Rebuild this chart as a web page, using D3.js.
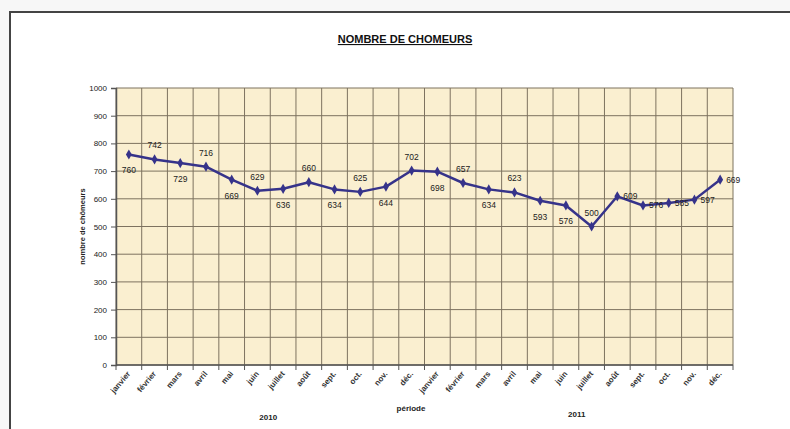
<!DOCTYPE html>
<html>
<head>
<meta charset="utf-8">
<script src="https://cdn.jsdelivr.net/npm/d3@7"></script>
<style>
  html, body { margin: 0; padding: 0; background: #f7f7f7; }
  svg { display: block; }
  text { font-family: "Liberation Sans", Arial, sans-serif; }
</style>
</head>
<body>
<svg id="chart" width="790" height="429"></svg>
<script>
// Monthly job-seeker counts, 2010–2011
const months = ["janvier", "février", "mars", "avril", "mai", "juin", "juillet", "août", "sept.", "oct.", "nov.", "déc.",
                "janvier", "février", "mars", "avril", "mai", "juin", "juillet", "août", "sept.", "oct.", "nov.", "déc."];
const years = ["2010", "2011"];
const chomeurs = [760, 742, 729, 716, 669, 629, 636, 660, 634, 625, 644, 702,
                  698, 657, 634, 623, 593, 576, 500, 609, 576, 585, 597, 669];
// where each value label sits relative to its point
const labelPos = ["below", "above", "below", "above", "below", "above", "below", "above", "below", "above", "below", "above",
                  "below", "above", "below", "above", "below", "below", "above", "right", "right", "right", "right", "right"];
const yTicks = [0, 100, 200, 300, 400, 500, 600, 700, 800, 900, 1000];

const svg = d3.select("#chart");
const W = 790, H = 429;

// chart sheet with its black frame
svg.append("rect").attr("x", 10).attr("y", 12).attr("width", W + 20).attr("height", H + 20)
  .attr("fill", "#ffffff").attr("stroke", "#444").attr("stroke-width", 2);

const margin = { left: 116, right: 57, top: 88, bottom: 64 };
const pw = W - margin.left - margin.right;
const ph = H - margin.top - margin.bottom;

const idx = d3.range(months.length);
const x = d3.scaleBand().domain(idx).range([margin.left, margin.left + pw]).padding(0);
const y = d3.scaleLinear().domain([0, 1000]).range([margin.top + ph, margin.top]);

// plot area
svg.append("rect").attr("x", margin.left).attr("y", margin.top).attr("width", pw).attr("height", ph)
  .attr("fill", "#faefd0");

// horizontal grid
svg.append("g").selectAll("line").data(yTicks).join("line")
  .attr("x1", margin.left).attr("x2", margin.left + pw)
  .attr("y1", d => y(d)).attr("y2", d => y(d))
  .attr("stroke", "#7d725f").attr("stroke-width", 1);

// vertical grid at category boundaries
const bounds = d3.range(months.length + 1).map(i => margin.left + i * x.bandwidth());
svg.append("g").selectAll("line").data(bounds).join("line")
  .attr("x1", d => d).attr("x2", d => d)
  .attr("y1", margin.top).attr("y2", margin.top + ph)
  .attr("stroke", "#7d725f").attr("stroke-width", 1);

// y axis
const yAxis = svg.append("g").attr("transform", `translate(${margin.left},0)`)
  .call(d3.axisLeft(y).tickValues(yTicks).tickSize(5).tickPadding(4).tickFormat(d3.format("d")));
yAxis.select(".domain").attr("stroke", "#555").attr("stroke-width", 1.5);
yAxis.selectAll(".tick line").attr("stroke", "#555");
yAxis.selectAll("text").attr("font-size", 8).attr("fill", "#222");

// x axis: tick marks between categories, labels rotated at category centres
const xg = svg.append("g");
xg.append("line").attr("x1", margin.left).attr("x2", margin.left + pw)
  .attr("y1", y(0)).attr("y2", y(0)).attr("stroke", "#555").attr("stroke-width", 1.5);
xg.selectAll(".tk").data(bounds).join("line").attr("class", "tk")
  .attr("x1", d => d).attr("x2", d => d).attr("y1", y(0)).attr("y2", y(0) + 5)
  .attr("stroke", "#555");
xg.selectAll(".lbl").data(idx).join("text").attr("class", "lbl")
  .attr("transform", i => `translate(${x(i) + x.bandwidth() / 2 + 2},${y(0) + 9}) rotate(-50)`)
  .attr("text-anchor", "end").attr("font-size", 8).attr("font-weight", "bold").attr("fill", "#333")
  .text(i => months[i]);

// year labels under each half
years.forEach((yr, k) => {
  const mid = x(k * 12 + 6);
  svg.append("text").attr("x", mid - 2).attr("y", k === 0 ? 420 : 417).attr("text-anchor", "middle")
    .attr("font-size", 8).attr("font-weight", "bold").attr("fill", "#222").text(yr);
});

// the series line and markers
const cx = i => x(i) + x.bandwidth() / 2;
const line = d3.line().x((d, i) => cx(i)).y(d => y(d));
svg.append("path").datum(chomeurs).attr("d", line)
  .attr("fill", "none").attr("stroke", "#36338a").attr("stroke-width", 2.5).attr("stroke-linejoin", "round");
svg.append("g").selectAll("path").data(chomeurs).join("path")
  .attr("d", d3.symbol().type(d3.symbolDiamond).size(30))
  .attr("transform", (d, i) => `translate(${cx(i)},${y(d)})`)
  .attr("fill", "#36338a");

// value labels
svg.append("g").selectAll("text").data(chomeurs).join("text")
  .attr("x", (d, i) => labelPos[i] === "right" ? cx(i) + 6 : cx(i))
  .attr("y", (d, i) => labelPos[i] === "above" ? y(d) - 11 : labelPos[i] === "below" ? y(d) + 19 : y(d) + 3)
  .attr("text-anchor", (d, i) => labelPos[i] === "right" ? "start" : "middle")
  .attr("font-size", 8.5).attr("fill", "#222")
  .text(d => d);

// titles
svg.append("text").attr("x", 405).attr("y", 43).attr("text-anchor", "middle")
  .attr("font-size", 11).attr("font-weight", "bold").attr("fill", "#111")
  .attr("text-decoration", "underline").text("NOMBRE DE CHOMEURS");
svg.append("text").attr("transform", `translate(85,${margin.top + ph / 2}) rotate(-90)`)
  .attr("text-anchor", "middle").attr("font-size", 7.5).attr("font-weight", "bold").attr("fill", "#222")
  .text("nombre de chômeurs");
svg.append("text").attr("x", 411).attr("y", 411).attr("text-anchor", "middle")
  .attr("font-size", 8).attr("font-weight", "bold").attr("fill", "#222").text("période");
</script>
</body>
</html>
